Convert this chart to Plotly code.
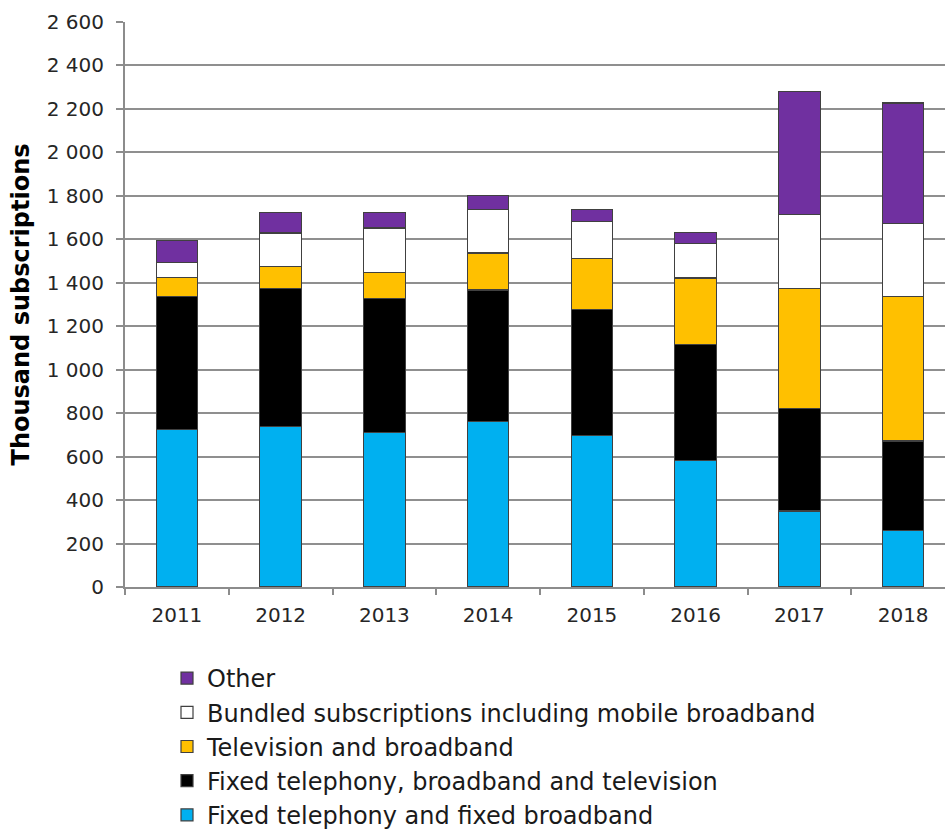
import plotly.graph_objects as go

years = ["2011", "2012", "2013", "2014", "2015", "2016", "2017", "2018"]

fixed_tel_broadband = [726, 738, 711, 761, 697, 582, 350, 261]
fixed_tel_bb_tv = [612, 635, 615, 606, 581, 534, 472, 411]
tv_broadband = [85, 103, 121, 170, 233, 306, 551, 664]
bundled_mobile_bb = [71, 153, 205, 199, 170, 158, 341, 337]
other = [100, 95, 72, 65, 55, 52, 566, 554]

series = [
    ("Fixed telephony and fixed broadband", fixed_tel_broadband, "#00B0F0"),
    ("Fixed telephony, broadband and television", fixed_tel_bb_tv, "#000000"),
    ("Television and broadband", tv_broadband, "#FFC000"),
    ("Bundled subscriptions including mobile broadband", bundled_mobile_bb, "#FFFFFF"),
    ("Other", other, "#7030A0"),
]

y_ticks = list(range(0, 2601, 200))

fig = go.Figure()
for name, vals, color in series:
    fig.add_trace(go.Bar(
        x=years, y=vals, name=name, width=0.4,
        marker=dict(color=color, line=dict(color="#404040", width=1.2)),
        legendgroup=name,
    ))

W, H = 945, 830
L, T, B = 125, 22, 243
plot_w = W - L

fig.update_layout(
    width=W, height=H,
    margin=dict(l=L, r=0, t=T, b=B, pad=0, autoexpand=False),
    barmode="stack",
    plot_bgcolor="white", paper_bgcolor="white",
    separators=", ",
    font=dict(family="DejaVu Sans", size=20, color="#262626"),
    showlegend=True,
    legend=dict(
        traceorder="reversed",
        x=(167 - L) / plot_w, xanchor="left",
        y=-(656 - 587) / (587 - T), yanchor="top",
        font=dict(size=24, color="#1a1a1a"),
        tracegroupgap=0,
        itemwidth=30,
        bgcolor="rgba(0,0,0,0)",
    ),
    xaxis=dict(
        type="category",
        range=[-0.5, 7.5 - 10 / 103.7],
        showline=True, linecolor="#8c8c8c", linewidth=2,
        ticks="outside", tickson="boundaries", ticklen=6,
        tickcolor="#8c8c8c", tickwidth=2,
        ticklabelstandoff=9,
        showgrid=False,
        tickfont=dict(size=20),
    ),
    yaxis=dict(
        range=[0, 2600],
        tickvals=y_ticks,
        tickformat=",d",
        showgrid=True, gridcolor="#8f8f8f", gridwidth=2,
        showline=True, linecolor="#8c8c8c", linewidth=2,
        ticks="outside", ticklen=7, tickcolor="#8c8c8c", tickwidth=2,
        ticklabelstandoff=8,
        zeroline=False,
        title=dict(text="<b>Thousand subscriptions</b>", font=dict(size=24, color="#000000"), standoff=10),
        tickfont=dict(size=20),
    ),
)

fig.write_html("out.html")
